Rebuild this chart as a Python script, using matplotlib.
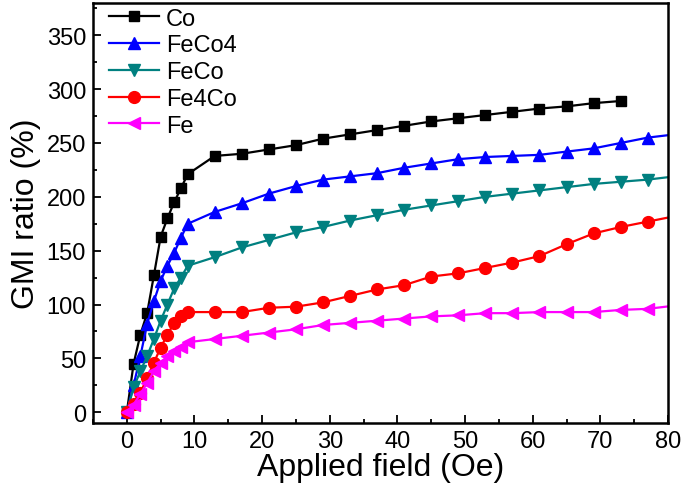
import numpy as np
import matplotlib
matplotlib.use("Agg")
import matplotlib.pyplot as plt
from matplotlib.ticker import MultipleLocator

plt.rcParams['font.family'] = ['Liberation Sans', 'DejaVu Sans']

# applied field (Oe)
x_co = [0, 1, 2, 3, 4, 5, 6, 7, 8, 9, 13, 17, 21, 25, 29, 33, 37, 41, 45, 49,
        53, 57, 61, 65, 69, 73]
x_long = [0, 1, 2, 3, 4, 5, 6, 7, 8, 9, 13, 17, 21, 25, 29, 33, 37, 41, 45, 49,
          53, 57, 61, 65, 69, 73, 77, 81]

# GMI ratio (%)
co = [0, 45, 72, 92, 127, 163, 180, 195, 208, 221, 238, 240, 244, 248, 254,
      258, 262, 266, 270, 273, 276, 279, 282, 284, 287, 289]
feco4 = [0, 25, 52, 82, 103, 122, 136, 148, 162, 175, 186, 194, 203, 210, 216,
         219, 222, 227, 231, 235, 237, 238, 239, 242, 245, 250, 255, 258]
feco = [0, 23, 38, 52, 68, 85, 100, 115, 125, 136, 144, 153, 160, 167, 172,
        178, 183, 188, 192, 196, 200, 203, 206, 209, 212, 214, 216, 219]
fe4co = [0, 8, 18, 32, 46, 60, 72, 83, 89, 93, 93, 93, 97, 98, 102, 108, 114,
         118, 126, 129, 134, 139, 145, 156, 166, 172, 177, 182]
fe = [0, 7, 17, 27, 38, 46, 52, 57, 61, 65, 68, 71, 74, 77, 81, 83, 85, 87,
      89, 90, 92, 92, 93, 93, 93, 95, 96, 99]

fig = plt.figure(figsize=(6.85, 4.89), dpi=100)
ax = fig.add_axes([93 / 685, 1 - 424 / 489, 575 / 685, 420 / 489])

ms = 7.5
ax.plot(x_co, co, '-s', color='black', lw=1.6, ms=ms, label='Co')
ax.plot(x_long, feco4, '-^', color='#0000ff', lw=1.6, ms=ms + 1, label='FeCo4')
ax.plot(x_long, feco, '-v', color='#008080', lw=1.6, ms=ms + 1, label='FeCo')
ax.plot(x_long, fe4co, '-o', color='#ff0000', lw=1.6, ms=ms + 1, label='Fe4Co')
ax.plot(x_long, fe, '-<', color='#ff00ff', lw=1.6, ms=ms + 1, label='Fe')

ax.set_xlim(-5, 80)
ax.set_ylim(-10, 380)
ax.xaxis.set_major_locator(MultipleLocator(10))
ax.xaxis.set_minor_locator(MultipleLocator(5))
ax.yaxis.set_major_locator(MultipleLocator(50))
ax.yaxis.set_minor_locator(MultipleLocator(25))
ax.tick_params(which='both', direction='in', width=1.3, labelsize=17)
ax.tick_params(which='major', length=6, pad=5)
ax.tick_params(which='minor', length=3)
for s in ax.spines.values():
    s.set_linewidth(1.8)

ax.set_xlabel('Applied field (Oe)', fontsize=23, labelpad=0)
ax.set_ylabel('GMI ratio (%)', fontsize=23, labelpad=4)

ax.legend(loc='upper left', bbox_to_anchor=(0.02, 1.0), frameon=False,
          fontsize=17, handlelength=2.1, labelspacing=0.2, borderaxespad=0.1,
          handletextpad=0.3, borderpad=0.1)

fig.savefig('out.png', dpi=100)
